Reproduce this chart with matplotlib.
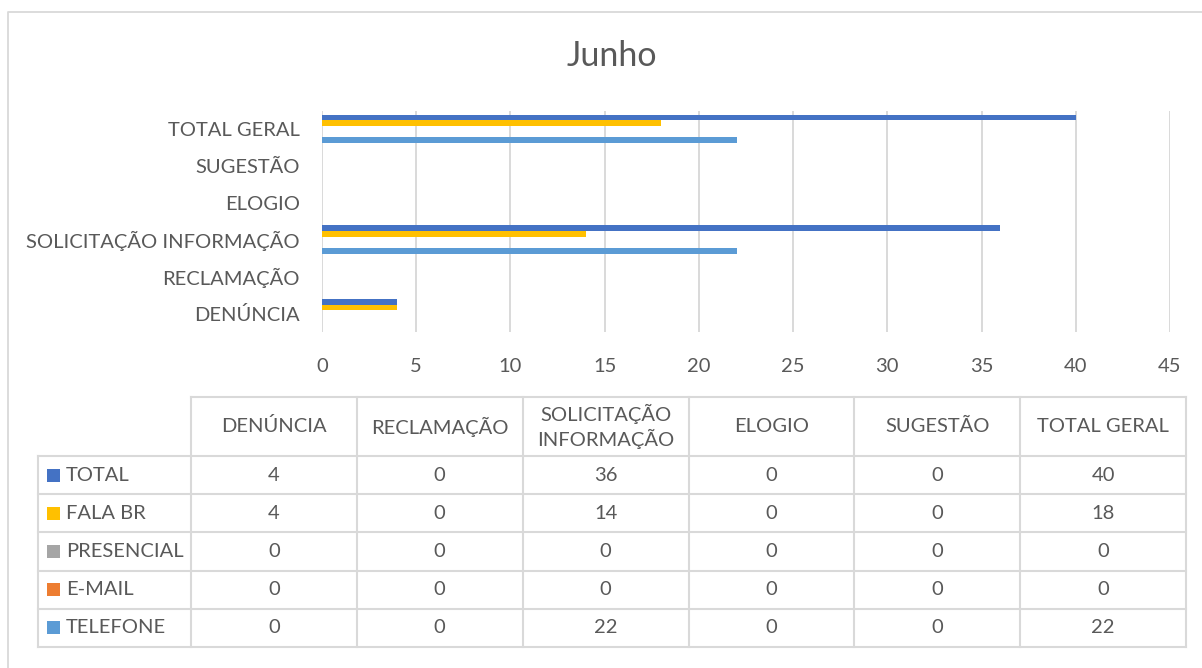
import matplotlib
matplotlib.use('Agg')
import matplotlib.pyplot as plt
import numpy as np

plt.rcParams['font.family'] = ['Lato', 'DejaVu Sans']

# dados do grafico (Junho)
categorias = ['DENÚNCIA', 'RECLAMAÇÃO', 'SOLICITAÇÃO INFORMAÇÃO', 'ELOGIO', 'SUGESTÃO', 'TOTAL GERAL']
cab_tabela = ['DENÚNCIA', 'RECLAMAÇÃO', 'SOLICITAÇÃO\nINFORMAÇÃO', 'ELOGIO', 'SUGESTÃO', 'TOTAL GERAL']
series = ['TOTAL', 'FALA BR', 'PRESENCIAL', 'E-MAIL', 'TELEFONE']
total = [4, 0, 36, 0, 0, 40]
fala_br = [4, 0, 14, 0, 0, 18]
presencial = [0, 0, 0, 0, 0, 0]
email = [0, 0, 0, 0, 0, 0]
telefone = [0, 0, 22, 0, 0, 22]
xticks = [0, 5, 10, 15, 20, 25, 30, 35, 40, 45]

valores = [total, fala_br, presencial, email, telefone]
cores = ['#4472C4', '#FFC000', '#A5A5A5', '#ED7D31', '#5B9BD5']
cinza_txt = '#595959'
cinza_linha = '#D9D9D9'
fs = 14.5

W, H = 1202, 668
fig = plt.figure(figsize=(W / 100, H / 100), dpi=100)

# camada de fundo em pixels: borda do grafico + tabela
bg = fig.add_axes([0, 0, 1, 1])
bg.set_xlim(0, W)
bg.set_ylim(H, 0)
bg.axis('off')
bg.plot([8, 8, W], [H, 12, 12], color=cinza_linha, lw=1.3)

# grafico de barras
ax = fig.add_axes([322 / W, 1 - 331.5 / H, (1170 - 322) / W, (331.5 - 110.5) / H])
y = np.arange(len(categorias))
h = 1 / 6.5
for k in range(len(series)):
    ax.barh(y + (2 - k) * h, valores[k], height=h, color=cores[k], linewidth=0, label=series[k])
ax.set_xlim(0, 45)
ax.set_ylim(-0.5, 5.5)
ax.set_xticks(xticks)
ax.set_yticks(y, categorias)
ax.grid(axis='x', color=cinza_linha, lw=1.4)
ax.set_axisbelow(True)
for s in ax.spines.values():
    s.set_visible(False)
ax.tick_params(axis='x', length=0, labelsize=fs, colors=cinza_txt, pad=19)
ax.tick_params(axis='y', length=0, labelsize=fs, colors=cinza_txt, pad=16)

fig.text(612 / W, 1 - 56 / H, 'Junho', ha='center', va='center', fontsize=24.5, color=cinza_txt)

# tabela de dados
x_lab = 38
x0 = 191
cw = (1186 - 191) / 6
top = 397
hb = 456
rh = (647 - 456) / 5
n = len(categorias)
x_end = x0 + n * cw
y_end = hb + len(series) * rh

bg.plot([x0, x_end], [top, top], color=cinza_linha, lw=1.5)
for r in range(len(series) + 1):
    bg.plot([x_lab, x_end], [hb + r * rh] * 2, color=cinza_linha, lw=1.5)
bg.plot([x_lab, x_lab], [hb, y_end], color=cinza_linha, lw=1.5)
for c in range(n + 1):
    bg.plot([x0 + c * cw] * 2, [top, y_end], color=cinza_linha, lw=1.5)

for c in range(n):
    bg.text(x0 + (c + 0.5) * cw, (top + hb) / 2, cab_tabela[c], ha='center', va='center',
            fontsize=fs, color=cinza_txt, linespacing=1.3)

for r in range(len(series)):
    yc = hb + (r + 0.5) * rh
    bg.add_patch(plt.Rectangle((47, yc - 6.5), 13, 13, color=cores[r], lw=0))
    bg.text(66, yc, series[r], ha='left', va='center', fontsize=fs, color=cinza_txt)
    for c in range(n):
        bg.text(x0 + (c + 0.5) * cw, yc, str(valores[r][c]), ha='center', va='center',
                fontsize=fs, color=cinza_txt)

fig.savefig('out.png', dpi=100)
